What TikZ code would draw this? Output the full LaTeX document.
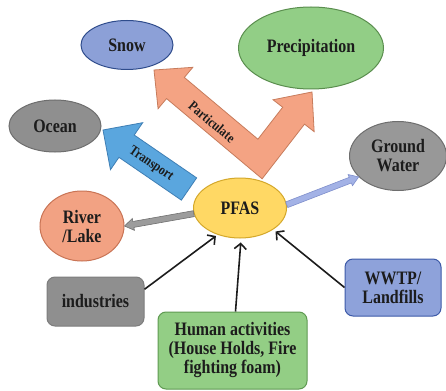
\documentclass[tikz,border=0pt]{standalone}
\usepackage{fontspec}
\setmainfont{Liberation Serif}[FakeStretch=0.84]
\usetikzlibrary{shapes.geometric,arrows.meta,calc}
\definecolor{txt}{HTML}{1C1C1C}
\definecolor{snowF}{HTML}{8CA0D7}\definecolor{snowD}{HTML}{2F4C8C}
\definecolor{precF}{HTML}{92CE86}\definecolor{precD}{HTML}{5A8E4E}
\definecolor{grayF}{HTML}{8F8F8F}\definecolor{grayD}{HTML}{6E6E6E}
\definecolor{pfasF}{HTML}{FFD864}\definecolor{pfasD}{HTML}{D4A82A}
\definecolor{rivF}{HTML}{F2A283}\definecolor{rivD}{HTML}{C97455}
\definecolor{humF}{HTML}{93CE85}\definecolor{humD}{HTML}{5F9A52}
\definecolor{wwF}{HTML}{8EA2DA}\definecolor{wwD}{HTML}{3D5AA8}
\definecolor{trF}{HTML}{5AA6DE}\definecolor{trD}{HTML}{3F7FB5}
\definecolor{paF}{HTML}{F4A383}\definecolor{paD}{HTML}{C77C5C}
\definecolor{gaF}{HTML}{9C9C9C}\definecolor{gaD}{HTML}{707070}
\definecolor{laF}{HTML}{A3B2E6}\definecolor{laD}{HTML}{7F8FCC}
\newcommand\blockarrow[6]{%
  \coordinate (ba-b) at ($(#3)!#6!(#2)$);
  \draw[#1] ($(#2)!#4!90:(#3)$) -- ($(ba-b)!#4!90:(#3)$) -- ($(ba-b)!#5!90:(#3)$) -- (#3)
    -- ($(ba-b)!#5!-90:(#3)$) -- ($(ba-b)!#4!-90:(#3)$) -- ($(#2)!#4!-90:(#3)$) -- cycle;}
\begin{document}
\begin{tikzpicture}[x=1pt,y=-1pt,
  lbl/.style={font=\fontsize{19}{19}\selectfont\bfseries, text=txt, align=center, inner sep=0pt},
  ell/.style={ellipse, draw, line width=1pt, lbl},
  box/.style={rectangle, rounded corners=8pt, draw, line width=1pt, lbl},
  conn/.style={line width=1.6pt, draw=txt, -{Straight Barb[length=5.5pt,width=12pt]}},
  tag/.style={font=\fontsize{14}{14}\selectfont\bfseries, text=txt, inner sep=0pt},
  blk/.style={line width=0.8pt, line join=miter}]
\fill[white] (0,0) rectangle (446,390);
\useasboundingbox (0,0) rectangle (446,390);
% block arrows
\coordinate (trT) at (189,189);
\coordinate (trH) at (103,130);
\blockarrow{blk, fill=trF, draw=trD}{trT}{trH}{13.5pt}{28.5pt}{28.6pt}
\coordinate (pC) at (260,159);
\coordinate (pL) at (154,70);
\coordinate (pR) at (312,92);
\coordinate (pLB) at ($(pL)!28pt!(pC)$);
\coordinate (pRB) at ($(pR)!30pt!(pC)$);
\coordinate (li1) at ($(pC)!13.8pt!-90:(pL)$);
\coordinate (li2) at ($(pLB)!13.8pt!-90:(pL)$);
\coordinate (lo1) at ($(pC)!13.8pt!90:(pL)$);
\coordinate (lo2) at ($(pLB)!13.8pt!90:(pL)$);
\coordinate (ri1) at ($(pC)!13.8pt!90:(pR)$);
\coordinate (ri2) at ($(pRB)!13.8pt!90:(pR)$);
\coordinate (ro1) at ($(pC)!13.8pt!-90:(pR)$);
\coordinate (ro2) at ($(pRB)!13.8pt!-90:(pR)$);
\coordinate (pI) at (intersection of li1--li2 and ri1--ri2);
\coordinate (pO) at (intersection of lo1--lo2 and ro1--ro2);
\draw[blk, fill=paF, draw=paD] (pO) -- (lo2) -- ($(pLB)!27pt!90:(pL)$) -- (pL) -- ($(pLB)!27pt!-90:(pL)$) -- (li2) -- (pI)
  -- (ri2) -- ($(pRB)!26pt!90:(pR)$) -- (pR) -- ($(pRB)!26pt!-90:(pR)$) -- (ro2) -- cycle;
\node[tag, rotate=-34.8] (trl) at (151,164) {Transport};
\node[tag, rotate=-39.8] (pal) at (212,122) {Particulate};
% nodes
\node[ell, fill=snowF, draw=snowD, minimum width=92pt, minimum height=49pt] (snow) at (127,45) {Snow};
\node[ell, fill=precF, draw=precD, minimum width=145pt, minimum height=82pt] (prec) at (311,48) {Precipitation};
\node[ell, fill=grayF, draw=grayD, minimum width=92pt, minimum height=52pt] (ocean) at (55,126) {Ocean};
\node[ell, fill=grayF!92!white, draw=grayD, minimum width=97pt, minimum height=69pt] (gw) at (398,156) {Ground\\Water};
\node[ell, fill=pfasF, draw=pfasD, minimum width=93pt, minimum height=60pt] (pfas) at (240,208) {PFAS};
\node[ell, fill=rivF, draw=rivD, minimum width=84pt, minimum height=70pt] (river) at (82,226) {River\\/Lake};
\node[box, fill=grayF, draw=grayD!90, minimum width=97pt, minimum height=49pt] (ind) at (95.5,301.5) {industries};
\node[box, fill=humF, draw=humD, minimum width=149pt, minimum height=77pt] (hum) at (232.5,350.5) {Human activities\\(House Holds, Fire\\fighting foam)};
\node[box, fill=wwF, draw=wwD, minimum width=96pt, minimum height=57pt] (ww) at (393,287.5) {WWTP/\\Landfills};
% thin block arrows
\coordinate (gaT) at (pfas.187);
\coordinate (gaH) at (river.east);
\blockarrow{blk, line width=0.6pt, fill=gaF, draw=gaD}{gaT}{gaH}{3pt}{6pt}{9pt}
\coordinate (laT) at (pfas.4);
\coordinate (laH) at (gw.208);
\blockarrow{blk, line width=0.6pt, fill=laF, draw=laD}{laT}{laH}{3pt}{6pt}{9pt}
% connectors
\draw[conn, shorten >=2pt] (ind.14) -- (pfas.230);
\draw[conn, shorten >=4pt] ([xshift=3pt]hum.north) -- (pfas.272);
\draw[conn, shorten >=3pt] (ww.west) -- (pfas.327);
\end{tikzpicture}
\end{document}
